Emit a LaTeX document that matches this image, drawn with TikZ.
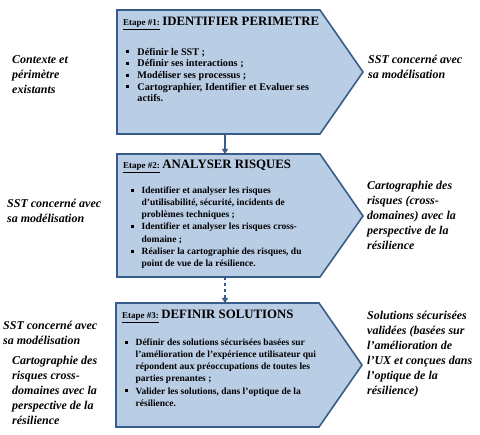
\documentclass[tikz,border=0pt]{standalone}
\usepackage{fontspec}
\setmainfont{Liberation Serif}
\definecolor{EtapeFill}{HTML}{B9CDE5}
\definecolor{EtapeLine}{HTML}{385D8A}
\usetikzlibrary{arrows.meta}
\newcommand{\puce}{\makebox[1.1em][l]{\rule[0.18em]{0.3em}{0.3em}}}
\newcommand{\suite}{\hspace*{1.1em}}
\newcommand{\etapetitre}[2]{\underline{\fontsize{9}{11}\selectfont Etape~\##1:}\ {\fontsize{12.8}{14}\selectfont #2}}

\begin{document}
\begin{tikzpicture}[x=1pt,y=-1pt,
  etape/.style={draw=EtapeLine,line width=1.6pt,fill=EtapeFill},
  titre/.style={anchor=base west,inner sep=0pt,font=\bfseries},
  liste/.style={anchor=north west,inner sep=0pt,align=left,font=\bfseries\fontsize{9.5}{12.2}\selectfont},
  cote/.style={anchor=north west,inner sep=0pt,align=left,font=\bfseries\itshape\fontsize{12}{15}\selectfont},
  lien/.style={EtapeLine,line width=1.2pt,-{Triangle[length=5pt,width=6pt]}}]
  \useasboundingbox (0,0) rectangle (480,435);
  % les trois etapes
  \draw[etape] (117,10) -- (320,10) -- (363,72) -- (320,134) -- (117,134) -- cycle;
  \draw[etape] (117,154) -- (320,154) -- (363,216) -- (320,277) -- (117,277) -- cycle;
  \draw[etape] (116,303) -- (319,303) -- (362,365) -- (319,427) -- (116,427) -- cycle;
  \coordinate (e1bas) at (225,134);
  \coordinate (e2haut) at (225,154);
  \coordinate (e2bas) at (225,277);
  \coordinate (e3haut) at (225,303);
  \draw[lien] (e1bas) -- (e2haut);
  \draw[lien,dashed] (e2bas) -- (e3haut);
  % titres
  \node[titre] (t1) at (123,26) {\etapetitre{1}{IDENTIFIER PERIMETRE}};
  \node[titre] (t2) at (123,169) {\etapetitre{2}{ANALYSER RISQUES}};
  \node[titre] (t3) at (122,319) {\etapetitre{3}{DEFINIR SOLUTIONS}};
  % listes
  \node[liste,font=\bfseries\fontsize{10.2}{11.6}\selectfont] (l1) at (126,46.9) {\strut\puce D\'efinir le SST ;\\
    \puce D\'efinir ses interactions ;\\
    \puce Mod\'eliser ses processus ;\\
    \puce Cartographier, Identifier et Evaluer ses\\
    \suite actifs.};
  \node[liste] (l2) at (131,184.5) {\strut\puce Identifier et analyser les risques\\
    \suite d’utilisabilit\'e, s\'ecurit\'e, incidents de\\
    \suite probl\`emes techniques ;\\
    \puce Identifier et analyser les risques cross-\\
    \suite domaine ;\\
    \puce R\'ealiser la cartographie des risques, du\\
    \suite point de vue de la r\'esilience.};
  \node[liste] (l3) at (125,336.5) {\strut\puce D\'efinir des solutions s\'ecuris\'ees bas\'ees sur\\
    \suite l’am\'elioration de l’exp\'erience utilisateur qui\\
    \suite r\'epondent aux pr\'eoccupations de toutes les\\
    \suite parties prenantes ;\\
    \puce Valider les solutions, dans l’optique de la\\
    \suite r\'esilience.};
  % entrees et sorties
  \node[cote] (in1) at (12,52.5) {\strut Contexte et\\p\'erim\`etre\\existants};
  \node[cote] (out1) at (368,52.5) {\strut SST concern\'e avec\\sa mod\'elisation};
  \node[cote] (in2) at (7,196.5) {\strut SST concern\'e avec\\sa mod\'elisation};
  \node[cote] (out2) at (367,178.5) {\strut Cartographie des\\risques (cross-\\domaines) avec la\\perspective de la\\r\'esilience};
  \node[cote] (in3a) at (3,318.5) {\strut SST concern\'e avec\\sa mod\'elisation};
  \node[cote] (in3b) at (12,353.5) {\strut Cartographie des\\risques cross-\\domaines avec la\\perspective de la\\r\'esilience};
  \node[cote] (out3) at (367,308.5) {\strut Solutions s\'ecuris\'ees\\valid\'ees (bas\'ees sur\\l’am\'elioration de\\l’UX et con\c{c}ues dans\\l’optique de la\\r\'esilience)};
\end{tikzpicture}
\end{document}
